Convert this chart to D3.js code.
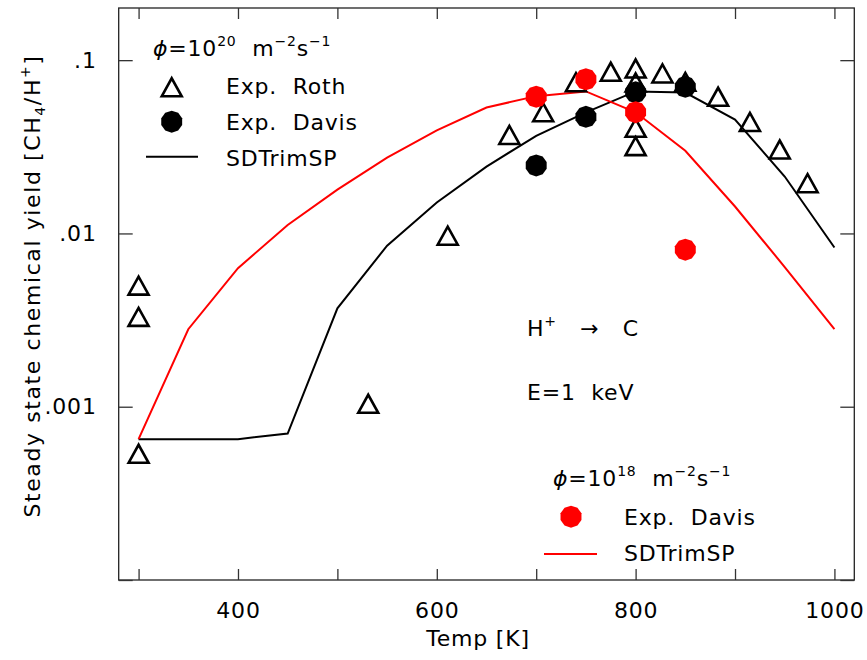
<!DOCTYPE html>
<html>
<head>
<meta charset="utf-8">
<script src="https://cdn.jsdelivr.net/npm/d3@7"></script>
<style>
  html, body { margin: 0; padding: 0; background: #fff; }
  svg text { font-family: "DejaVu Sans", sans-serif; fill: #000; }
</style>
</head>
<body>
<svg id="chart" width="867" height="660"></svg>
<script>
// Experimental data: Roth (high flux)
const rothTemp  = [300, 300, 300, 531, 611, 673, 707, 740, 775, 800, 800, 800, 800, 827, 850, 883, 915, 945, 973];
const rothYield = [0.0050, 0.0033, 0.000535, 0.00104, 0.0097, 0.037, 0.050, 0.0746, 0.0857, 0.0895, 0.0743, 0.0407, 0.0319, 0.0838, 0.075, 0.0615, 0.044, 0.0305, 0.0195];

// Experimental data: Davis, high flux (1e20) and low flux (1e18)
const davisTemp      = [700, 750, 800, 850];
const davisHighYield = [0.0247, 0.0471, 0.0653, 0.0702];
const davisLowYield  = [0.0615, 0.0776, 0.0501, 0.00806];

// SDTrimSP simulations
const simTemp      = [300, 350, 400, 450, 500, 550, 600, 650, 700, 750, 800, 850, 900, 950, 1000];
const simHighYield = [0.00065, 0.00065, 0.00065, 0.00070, 0.0037, 0.0085, 0.0151, 0.0243, 0.0366, 0.050, 0.066, 0.065, 0.0454, 0.0213, 0.0083];
const simLowYield  = [0.00065, 0.0028, 0.0063, 0.0112, 0.0179, 0.0274, 0.0393, 0.0533, 0.062, 0.066, 0.050, 0.030, 0.0143, 0.0064, 0.0028];

// Axis ticks
const xTicks = [300, 400, 500, 600, 700, 800, 900, 1000];
const xTickLabels = ["", "400", "", "600", "", "800", "", "1000"];
const yTicks = [0.0001, 0.001, 0.01, 0.1];
const yTickLabels = ["", ".001", ".01", ".1"];

const svg = d3.select("#chart");
const plotLeft = 118.7, plotRight = 854.3, plotTop = 8, plotBottom = 580;

const x = d3.scaleLinear().domain([280, 1020]).range([plotLeft, plotRight]);
const y = d3.scaleLog().domain([0.0001, 0.2]).range([plotBottom, plotTop]);

const fontSize = 22;
const supSize = 14;
const ls = "0.8px";

// Frame
svg.append("rect")
  .attr("x", plotLeft).attr("y", plotTop)
  .attr("width", plotRight - plotLeft).attr("height", plotBottom - plotTop)
  .attr("fill", "none").attr("stroke", "#222").attr("stroke-width", 1.3);

// Axes with inward ticks
const xBottom = d3.axisBottom(x).tickValues(xTicks).tickSize(-11).tickFormat((d, i) => xTickLabels[i]).tickPadding(22);
const xTop = d3.axisTop(x).tickValues(xTicks).tickSize(-11).tickFormat("");
const yLeft = d3.axisLeft(y).tickValues(yTicks).tickSize(-14).tickFormat((d, i) => yTickLabels[i]).tickPadding(22);
const yRight = d3.axisRight(y).tickValues(yTicks).tickSize(-14).tickFormat("");

function styleAxis(g) {
  g.select(".domain").remove();
  g.selectAll(".tick line").attr("stroke", "#333").attr("stroke-width", 1.3);
  g.selectAll(".tick text").attr("font-size", fontSize).attr("font-family", "DejaVu Sans").attr("letter-spacing", ls).attr("fill", "#000");
}
svg.append("g").attr("transform", `translate(0,${plotBottom})`).call(xBottom).call(styleAxis);
svg.append("g").attr("transform", `translate(0,${plotTop})`).call(xTop).call(styleAxis);
svg.append("g").attr("transform", `translate(${plotLeft},0)`).call(yLeft).call(styleAxis);
svg.append("g").attr("transform", `translate(${plotRight},0)`).call(yRight).call(styleAxis);

// Axis titles
svg.append("text")
  .attr("x", 478).attr("y", 646)
  .attr("text-anchor", "middle").attr("font-size", fontSize).attr("letter-spacing", ls)
  .text("Temp [K]");

const yTitle = svg.append("text")
  .attr("transform", "translate(40,286) rotate(-90)")
  .attr("text-anchor", "middle").attr("font-size", fontSize).attr("letter-spacing", "1.6px");
yTitle.append("tspan").text("Steady state chemical yield [CH");
yTitle.append("tspan").attr("font-size", supSize).attr("dy", 5).text("4");
yTitle.append("tspan").attr("dy", -5).text("/H");
yTitle.append("tspan").attr("font-size", supSize).attr("dy", -10).text("+");
yTitle.append("tspan").attr("dy", 10).text("]");

// Simulation curves
const line = d3.line().x(d => x(d[0])).y(d => y(d[1]));
svg.append("path")
  .datum(simTemp.map((t, i) => [t, simHighYield[i]]))
  .attr("d", line).attr("fill", "none").attr("stroke", "#000").attr("stroke-width", 2);
svg.append("path")
  .datum(simTemp.map((t, i) => [t, simLowYield[i]]))
  .attr("d", line).attr("fill", "none").attr("stroke", "#f00").attr("stroke-width", 2);

// Marker shapes
const triPath = "M-10,9L0,-9L10,9Z";
const dotPoints = d3.range(10).map(k => {
  const a = (k + 0.5) * 2 * Math.PI / 10;
  return [11 * Math.cos(a), 11 * Math.sin(a)];
});
const dotPath = "M" + dotPoints.map(p => p.join(",")).join("L") + "Z";

function triangle(g, cx, cy) {
  g.append("path").attr("d", triPath).attr("transform", `translate(${cx},${cy})`)
    .attr("fill", "none").attr("stroke", "#000").attr("stroke-width", 2.6).attr("stroke-linejoin", "miter");
}
function dot(g, cx, cy, color) {
  g.append("path").attr("d", dotPath).attr("transform", `translate(${cx},${cy})`).attr("fill", color);
}

const marks = svg.append("g");
rothTemp.forEach((t, i) => triangle(marks, x(t), y(rothYield[i])));
davisTemp.forEach((t, i) => dot(marks, x(t), y(davisHighYield[i]), "#000"));
davisTemp.forEach((t, i) => dot(marks, x(t), y(davisLowYield[i]), "#f00"));

// Legend helpers
function fluxLabel(xp, yp, exp) {
  const t = svg.append("text").attr("x", xp).attr("y", yp).attr("font-size", fontSize).attr("letter-spacing", ls)
    .attr("xml:space", "preserve");
  t.append("tspan").attr("font-style", "italic").text("ϕ");
  t.append("tspan").text("=10");
  t.append("tspan").attr("font-size", supSize).attr("dy", -10).text(exp);
  t.append("tspan").attr("dy", 10).text("  m");
  t.append("tspan").attr("font-size", supSize).attr("dy", -10).text("−2");
  t.append("tspan").attr("dy", 10).text("s");
  t.append("tspan").attr("font-size", supSize).attr("dy", -10).text("−1");
}
function legendText(xp, yp, s) {
  svg.append("text").attr("x", xp).attr("y", yp).attr("font-size", fontSize).attr("letter-spacing", ls)
    .attr("xml:space", "preserve").text(s);
}

// Legend: high flux
fluxLabel(153, 56, "20");
triangle(svg, 171.7, 87.3);
legendText(226, 94, "Exp.  Roth");
dot(svg, 171.7, 121.7, "#000");
legendText(226, 130, "Exp.  Davis");
svg.append("line").attr("x1", 146).attr("x2", 198).attr("y1", 156.7).attr("y2", 156.7)
  .attr("stroke", "#000").attr("stroke-width", 2);
legendText(226, 166, "SDTrimSP");

// Legend: low flux
fluxLabel(553, 486, "18");
dot(svg, 571, 516.7, "#f00");
legendText(624, 525, "Exp.  Davis");
svg.append("line").attr("x1", 544).attr("x2", 597).attr("y1", 554).attr("y2", 554)
  .attr("stroke", "#f00").attr("stroke-width", 2);
legendText(624, 561, "SDTrimSP");

// Annotations
const proj = svg.append("text").attr("x", 527).attr("y", 336).attr("font-size", fontSize).attr("letter-spacing", ls)
  .attr("xml:space", "preserve");
proj.append("tspan").text("H");
proj.append("tspan").attr("font-size", supSize).attr("dy", -10).text("+");
proj.append("tspan").attr("dy", 10).text("   →   C");
legendText(527, 400, "E=1  keV");
</script>
</body>
</html>
